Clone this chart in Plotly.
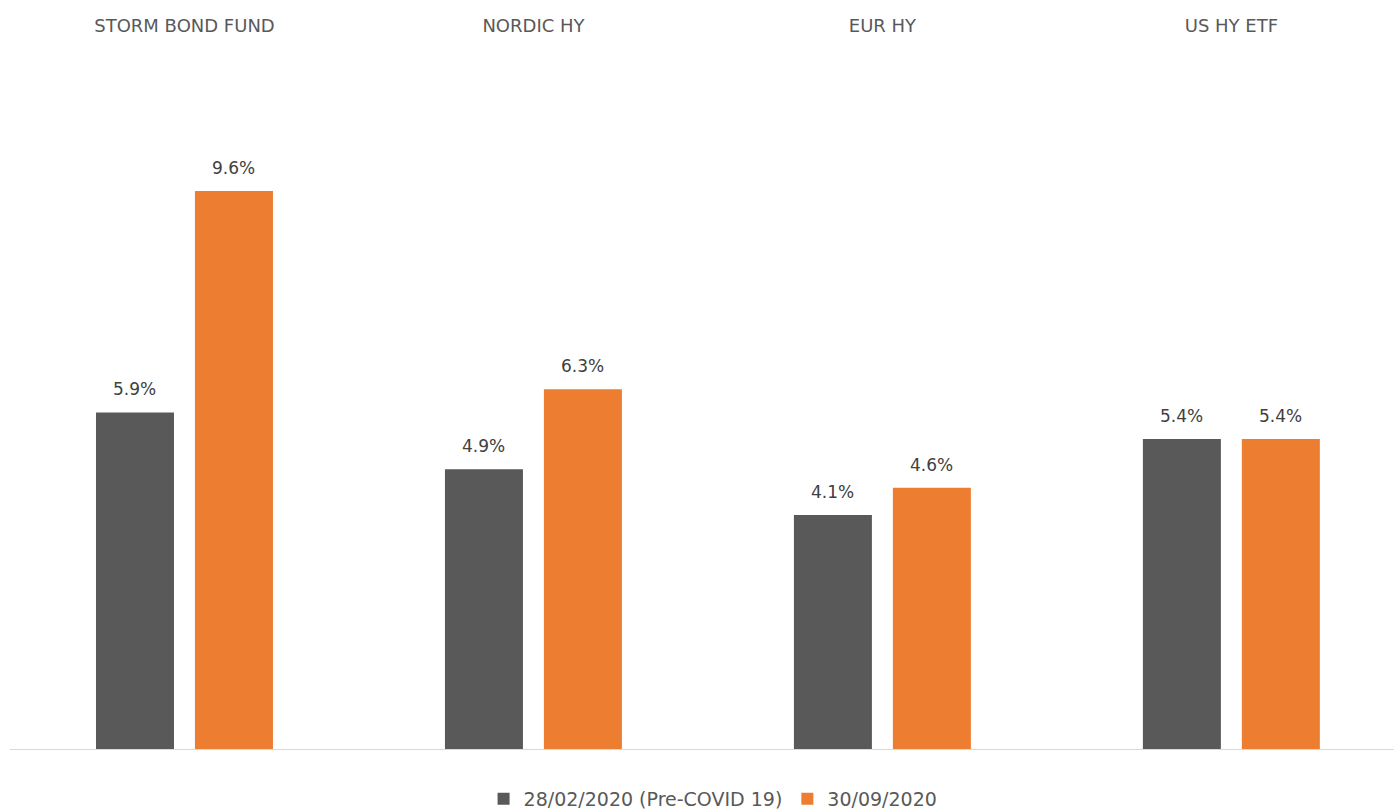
import plotly.graph_objects as go

categories = ["STORM BOND FUND", "NORDIC HY", "EUR HY", "US HY ETF"]
series_names = ["28/02/2020 (Pre-COVID 19)", "30/09/2020"]
pre_covid = [5.82, 4.84, 4.05, 5.36]
sep_2020 = [9.64, 6.22, 4.52, 5.36]
labels_pre = ["5.9%", "4.9%", "4.1%", "5.4%"]
labels_sep = ["9.6%", "6.3%", "4.6%", "5.4%"]

GRAY = "#595959"
ORANGE = "#ED7D31"
FONT = "DejaVu Sans"
BAR_W = 0.2235
OFF_PRE = -0.2536
OFF_SEP = 0.030
PX_PER_UNIT = 349

fig = go.Figure()
fig.add_trace(go.Bar(
    x=categories, y=pre_covid, name=series_names[0],
    marker=dict(color=GRAY, line=dict(width=0)),
    width=BAR_W, offset=OFF_PRE, hoverinfo="skip",
))
fig.add_trace(go.Bar(
    x=categories, y=sep_2020, name=series_names[1],
    marker=dict(color=ORANGE, line=dict(width=0)),
    width=BAR_W, offset=OFF_SEP, hoverinfo="skip",
))

for vals, labs, off in ((pre_covid, labels_pre, OFF_PRE), (sep_2020, labels_sep, OFF_SEP)):
    shift = (off + BAR_W / 2) * PX_PER_UNIT
    for c, v, t in zip(categories, vals, labs):
        fig.add_annotation(x=c, y=v, text=t, showarrow=False, xref="x", yref="y",
                           xanchor="center", yanchor="bottom", xshift=shift, yshift=11,
                           font=dict(family=FONT, size=17, color="#404040"))

fig.update_layout(
    width=1394, height=810,
    margin=dict(l=10, r=0, t=37, b=60, autoexpand=False),
    paper_bgcolor="white", plot_bgcolor="white",
    font=dict(family=FONT, color=GRAY),
    showlegend=True,
    legend=dict(orientation="h", x=0.508, xanchor="center", y=-0.0687, yanchor="middle",
                font=dict(family=FONT, size=19, color=GRAY),
                itemwidth=30, traceorder="normal"),
    barmode="overlay",
    xaxis=dict(side="top", range=[-0.5, 3.466], showgrid=False, zeroline=False,
               showline=False, ticks="", tickfont=dict(family=FONT, size=18, color=GRAY),
               fixedrange=True),
    yaxis=dict(range=[0, 713 / 58.0], showgrid=False, zeroline=False, showticklabels=False,
               showline=False, ticks="", fixedrange=True),
)
fig.add_shape(type="line", xref="paper", yref="y", x0=0, x1=1, y0=0, y1=0,
              line=dict(color="#D9D9D9", width=2))

fig.write_html("out.html", config={"displayModeBar": False},
               post_script="document.body.style.margin='0';")
